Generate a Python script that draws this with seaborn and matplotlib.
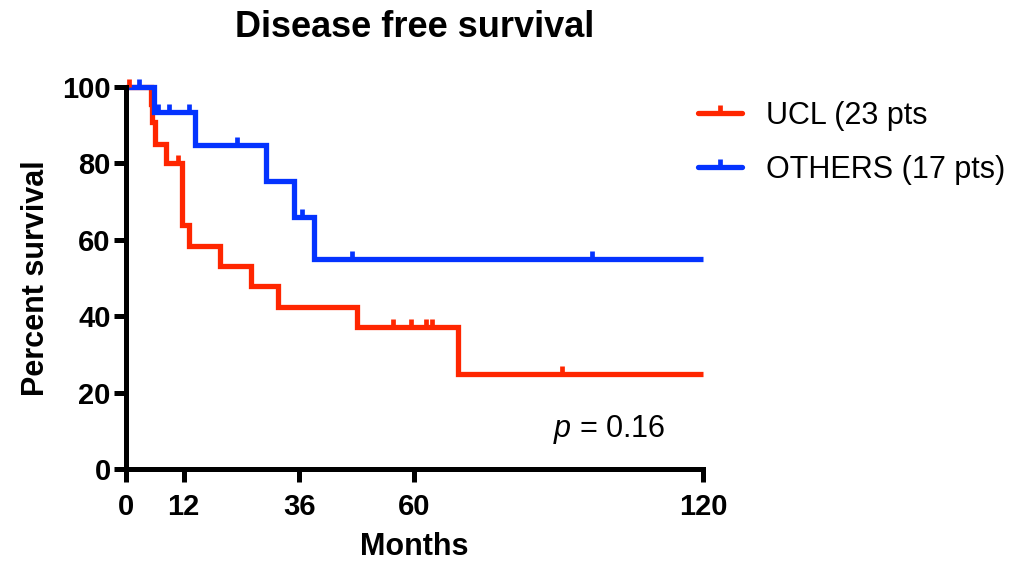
import matplotlib
matplotlib.use("Agg")
import matplotlib.pyplot as plt
from matplotlib.lines import Line2D
from matplotlib.markers import TICKUP
import numpy as np
import pandas as pd
import seaborn as sns

# Kaplan-Meier step curves (months, percent surviving)
ucl_times = [0, 5.1, 5.5, 6.0, 8.4, 11.7, 13.0, 19.6, 25.9, 31.6, 48.1, 69.1]
ucl_surv = [100, 95.5, 90.9, 85.0, 80.0, 64.0, 58.5, 53.2, 47.9, 42.5, 37.1, 24.8]
ucl_censored = [0.7, 10.9, 55.5, 59.3, 62.3, 63.6, 90.7]

others_times = [0, 5.8, 14.3, 29.2, 34.9, 39.1]
others_surv = [100, 93.5, 84.9, 75.5, 66.0, 55.0]
others_censored = [2.7, 6.7, 8.9, 13.1, 23.1, 36.5, 47.1, 96.9]

follow_up_end = 120
group_labels = ["UCL (23 pts", "OTHERS (17 pts)"]
group_colors = ["#FF2600", "#0433FF"]
x_ticks = [0, 12, 36, 60, 120]
y_ticks = [0, 20, 40, 60, 80, 100]
p_value_text = r"$p$ = 0.16"

sns.set_style("ticks")
plt.rcParams["font.family"] = ["Liberation Sans", "DejaVu Sans"]
plt.rcParams["mathtext.fontset"] = "custom"
plt.rcParams["mathtext.rm"] = "Liberation Sans"
plt.rcParams["mathtext.it"] = "Liberation Sans:italic"
for key in ["text.color", "axes.labelcolor", "xtick.color", "ytick.color",
            "xtick.labelcolor", "ytick.labelcolor"]:
    plt.rcParams[key] = "black"


def step_frame(times, surv, label):
    t = list(times) + [follow_up_end]
    s = list(surv) + [surv[-1]]
    return pd.DataFrame({"Months": t, "Percent survival": s, "group": label})


def surv_at(times, surv, when):
    idx = np.searchsorted(times, when, side="right") - 1
    return np.asarray(surv)[idx]


curves = pd.concat([
    step_frame(ucl_times, ucl_surv, group_labels[0]),
    step_frame(others_times, others_surv, group_labels[1]),
], ignore_index=True)

fig = plt.figure(figsize=(10.33, 5.62), dpi=100)
ax = fig.add_axes([0.122, 0.1655, 0.5585, 0.6797])

lw = 3.8
sns.lineplot(data=curves, x="Months", y="Percent survival", hue="group",
             palette=dict(zip(group_labels, group_colors)), estimator=None,
             sort=False, drawstyle="steps-post", linewidth=lw, legend=False,
             ax=ax, clip_on=False, solid_joinstyle="miter", solid_capstyle="butt")

# censoring ticks
for times, surv, cens, color in [
    (ucl_times, ucl_surv, ucl_censored, group_colors[0]),
    (others_times, others_surv, others_censored, group_colors[1]),
]:
    ax.plot(cens, surv_at(times, surv, cens), linestyle="none", marker=TICKUP,
            markersize=5.5, markeredgewidth=3.4, color=color, clip_on=False)

ax.set_xlim(0, follow_up_end)
ax.set_ylim(0, 100)
ax.set_xticks(x_ticks)
ax.set_yticks(y_ticks)

for side in ["top", "right"]:
    ax.spines[side].set_visible(False)
for side in ["left", "bottom"]:
    ax.spines[side].set_linewidth(3.6)
    ax.spines[side].set_color("black")
    ax.spines[side].set_capstyle("projecting")

ax.tick_params(axis="both", which="major", direction="out", length=9,
               width=3.6, color="black", labelcolor="black", labelsize=21)
ax.tick_params(axis="x", pad=8)
ax.tick_params(axis="y", pad=2)
for lab in ax.get_xticklabels() + ax.get_yticklabels():
    lab.set_fontweight("bold")

ax.set_xlabel("Months", fontsize=22, fontweight="bold", labelpad=8.5, color="black")
ax.set_ylabel("Percent survival", fontsize=22, fontweight="bold", labelpad=8, color="black")
ax.set_title("Disease free survival", fontsize=26, fontweight="bold", pad=36, color="black")

ax.text(88.8, 8.4, p_value_text, fontsize=22, ha="left", va="baseline", color="black")

handles = [Line2D([], [], color=c, linewidth=lw, marker=TICKUP, markersize=5.5,
                  markeredgewidth=3.4, solid_capstyle="round")
           for c in group_colors]
leg = fig.legend(handles, group_labels, loc="upper left",
                 bbox_to_anchor=(0.676, 0.820), frameon=False, fontsize=22,
                 handlelength=1.44, handletextpad=0.78, labelspacing=0.78,
                 borderpad=0, borderaxespad=0, numpoints=1)
for txt in leg.get_texts():
    txt.set_color("black")

fig.savefig("out.png", dpi=100)
